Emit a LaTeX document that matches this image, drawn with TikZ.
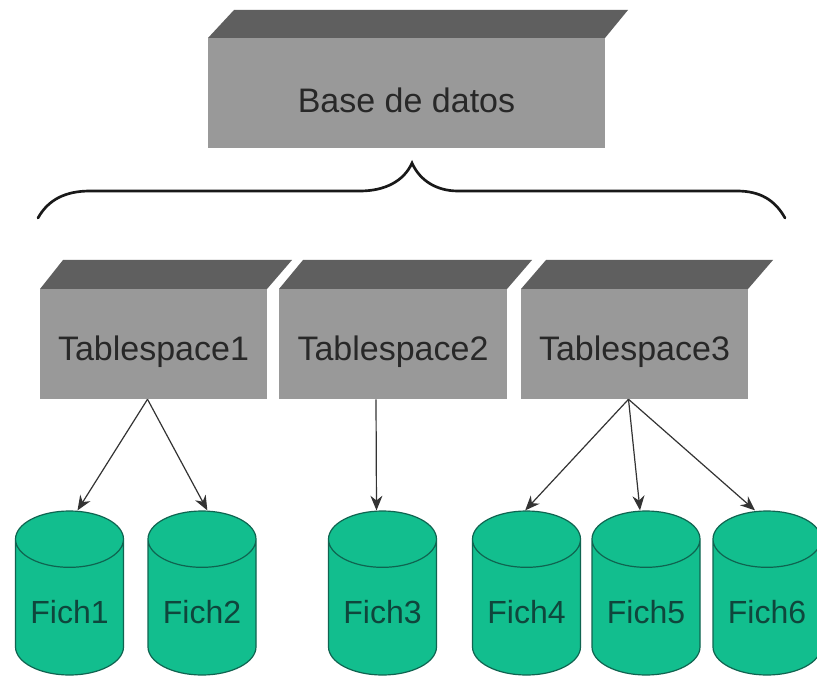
\documentclass[tikz,border=0pt]{standalone}
\usepackage{fontspec}
\setmainfont{Liberation Sans}
\usetikzlibrary{shapes.geometric,arrows.meta,calc}
\definecolor{frontgray}{RGB}{153,153,153}
\definecolor{topgray}{RGB}{95,95,95}
\definecolor{cylgreen}{RGB}{18,190,142}
\definecolor{cylline}{RGB}{15,100,80}
\definecolor{inkgray}{RGB}{40,40,40}
\definecolor{inkgreen}{RGB}{15,70,60}
\tikzset{
  x=0.75pt,y=-0.75pt,
  frontbox/.style={fill=frontgray,draw=none,inner sep=0pt,text=inkgray,font=\fontsize{25.5}{28}\selectfont,minimum height=82.5pt,text height=24pt,text depth=0pt},
  topface/.style={fill=topgray,draw=none},
  drum/.style={cylinder,anchor=shape center,shape border rotate=90,aspect=0.72,draw=cylline,line width=0.9pt,fill=cylgreen,
    minimum width=81pt,minimum height=123pt,inner sep=0pt,text=inkgreen,font=\fontsize{24}{26}\selectfont,text height=24pt,text depth=0pt},
  link/.style={draw=black!80,line width=0.9pt,-{Stealth[length=11pt,width=9pt]}},
  bracket/.style={draw=black!90,line width=2pt,line cap=round}
}
\begin{document}
\begin{tikzpicture}
\useasboundingbox (0,0) rectangle (817,677);
\fill[white] (0,0) rectangle (817,677);

% database
\fill[topface] (208,38) -- (234,10) -- (628,10) -- (605,38) -- cycle;
\node[frontbox,minimum width=297.75pt,text height=29pt] (db) at (406.5,93) {Base de datos};

% tablespaces
\fill[topface] (40,289) -- (63,260) -- (292,260) -- (267,289) -- cycle;
\fill[topface] (279,289) -- (303,260) -- (532,260) -- (507,289) -- cycle;
\fill[topface] (521,289) -- (546,260) -- (773,260) -- (748,289) -- cycle;
\node[frontbox,minimum width=170.25pt] (t1) at (153.5,344) {Tablespace1};
\node[frontbox,minimum width=171pt] (t2) at (393,344) {Tablespace2};
\node[frontbox,minimum width=170.25pt] (t3) at (634.5,344) {Tablespace3};

% brace
\coordinate (bl) at (38,218);
\coordinate (bp) at (412,163);
\coordinate (br) at (785,218);
\draw[bracket] (bl) .. controls (48,200) and (65,191) .. (90,191) -- (360,191)
  .. controls (385,191) and (404,181) .. (bp)
  .. controls (420,181) and (437,191) .. (458,191) -- (737,191)
  .. controls (760,191) and (775,200) .. (br);

% files
\node[drum] (f1) at (69.5,593) {Fich1};
\node[drum] (f2) at (202,593) {Fich2};
\node[drum] (f3) at (382.5,593) {Fich3};
\node[drum] (f4) at (526.5,593) {Fich4};
\node[drum] (f5) at (646,593) {Fich5};
\node[drum] (f6) at (767,593) {Fich6};

% connectors
\coordinate (o1) at ([xshift=-4.5pt]t1.south);
\coordinate (o2) at ([xshift=-12.75pt]t2.south);
\coordinate (o3) at ([xshift=-4.5pt]t3.south);
\draw[link] (o1) -- ([xshift=6pt]f1.north);
\draw[link] (o1) -- ([xshift=4pt]f2.north);
\draw[link] (o2) -- ([xshift=-4.5pt]f3.north);
\draw[link] (o3) -- ([xshift=-1pt]f4.north);
\draw[link] (o3) -- ([xshift=-4.5pt]f5.north);
\draw[link] (o3) -- ([xshift=-9pt]f6.north);
\end{tikzpicture}
\end{document}
